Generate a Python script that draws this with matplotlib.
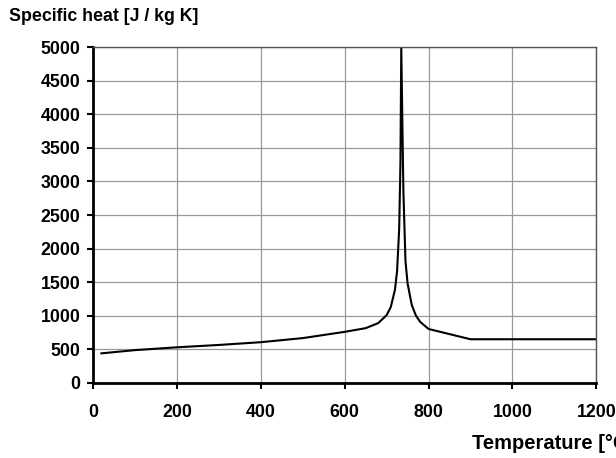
import matplotlib
matplotlib.use('Agg')
import matplotlib.pyplot as plt

plt.rcParams['font.family'] = ['Liberation Sans', 'DejaVu Sans']
plt.rcParams['font.weight'] = 'bold'

# values
temp = [20, 100, 200, 300, 400, 500, 600, 650, 680, 700, 710, 720, 725, 730, 733, 735,
        740, 745, 750, 760, 770, 780, 800, 900, 1200]
heat = [440, 488, 530, 565, 606, 667, 760, 815, 890, 1008, 1130, 1388, 1666, 2291, 3266, 5000,
        2865, 1818, 1483, 1160, 1002, 909, 803, 650, 650]

x_ticks = [0, 200, 400, 600, 800, 1000, 1200]
y_ticks = [0, 500, 1000, 1500, 2000, 2500, 3000, 3500, 4000, 4500, 5000]

fig = plt.figure(figsize=(6.16, 4.58), dpi=100)
ax = fig.add_axes([0.151, 0.164, 0.817, 0.733])

ax.plot(temp, heat, color='black', lw=1.5)

ax.set_xlim(0, 1200)
ax.set_ylim(0, 5000)
ax.set_xticks(x_ticks)
ax.set_yticks(y_ticks)
ax.grid(True, color='#999999', lw=0.9)
ax.set_axisbelow(True)

for s in ['left', 'bottom']:
    ax.spines[s].set_linewidth(2)
    ax.spines[s].set_color('black')
for s in ['top', 'right']:
    ax.spines[s].set_linewidth(1)
    ax.spines[s].set_color('#555555')

ax.tick_params(direction='out', length=4.5, width=1.5, labelsize=12.8)
ax.tick_params(axis='x', pad=10.5)
ax.tick_params(axis='y', pad=4.5)
for lab in ax.get_xticklabels() + ax.get_yticklabels():
    lab.set_fontweight('bold')

fig.text(0.015, 0.965, 'Specific heat [J / kg K]', fontsize=12.8, fontweight='bold',
         ha='left', va='center')
fig.text(0.766, 0.031, 'Temperature [°C]', fontsize=14.5, fontweight='bold',
         ha='left', va='center')

fig.savefig('out.png', dpi=100)
